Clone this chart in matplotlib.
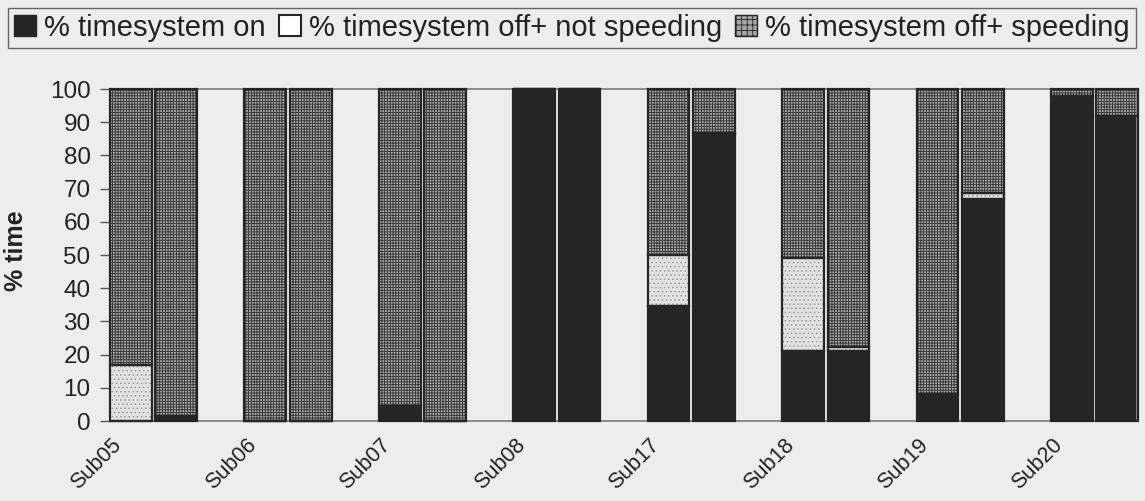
import numpy as np
import matplotlib
matplotlib.use("Agg")
import matplotlib.pyplot as plt
from matplotlib.patches import Patch

plt.rcParams['font.family'] = ['Liberation Sans', 'DejaVu Sans']
plt.rcParams['hatch.linewidth'] = 0.6

subjects = ["Sub05", "Sub06", "Sub07", "Sub08", "Sub17", "Sub18", "Sub19", "Sub20"]

# two sessions per subject: (first bar, second bar)
on_first = [0, 0, 4.5, 100, 34.5, 21, 8, 98]
on_second = [1.5, 0, 0, 100, 86, 21, 67, 92]
off_slow_first = [17, 0, 0, 0, 15.5, 28, 0, 0]
off_slow_second = [0, 0, 0, 0, 0.6, 1.2, 1.8, 0]
off_fast_first = [83, 100, 95.5, 0, 50, 51, 92, 2]
off_fast_second = [98.5, 100, 100, 0, 13.4, 77.8, 31.2, 8]

series_names = ["% timesystem on", "% timesystem off+ not speeding", "% timesystem off+ speeding"]

bg = "#ededed"
dark = "#252525"
styles = [
    dict(face=dark, hatch=None, hcol=dark),
    dict(face="#e2e2e2", hatch="....", hcol="#999999"),
    dict(face="#a4a4a4", hatch="++++++", hcol="#333333"),
]

fig = plt.figure(figsize=(11.45, 5.01), dpi=100, facecolor=bg)
ax = fig.add_axes([110 / 1145, 80 / 501, (1137 - 110) / 1145, (421 - 89) / 501])
ax.set_facecolor(bg)

width = 0.31
offsets = [0.0, 0.338]
x = np.arange(len(subjects))

sessions = [
    (on_first, off_slow_first, off_fast_first),
    (on_second, off_slow_second, off_fast_second),
]

for off, (s_on, s_slow, s_fast) in zip(offsets, sessions):
    bottom = np.zeros(len(subjects))
    for vals, st in zip((s_on, s_slow, s_fast), styles):
        vals = np.asarray(vals, dtype=float)
        ax.bar(x + off, vals, width, bottom=bottom, align="edge",
               color=st["face"], hatch=st["hatch"], edgecolor=st["hcol"],
               linewidth=0, clip_on=False, zorder=2)
        ax.bar(x + off, vals, width, bottom=bottom, align="edge",
               facecolor="none", edgecolor=dark, linewidth=1.6,
               clip_on=False, zorder=3)
        bottom += vals

ax.set_xlim(0, 7.64)
ax.set_ylim(0, 100)
ax.set_yticks(np.arange(0, 101, 10))
ax.tick_params(axis="y", labelsize=17.5, length=7, width=1, color="#555555",
               pad=7, labelcolor="#222222")
ax.set_xticks(x + 0.01)
ax.set_xticklabels(subjects, rotation=45, ha="right", rotation_mode="anchor",
                   fontsize=15.5, color="#222222")
ax.tick_params(axis="x", length=0, pad=10)
for side in ["top", "bottom", "left", "right"]:
    ax.spines[side].set_color("#8c8c8c")
    ax.spines[side].set_linewidth(1.4)

fig.text(16 / 1145, 1 - 251 / 501, "% time", rotation=90, ha="center", va="center",
         fontsize=18, fontweight="bold", color="#222222")

handles = [
    Patch(facecolor=styles[0]["face"], edgecolor=dark, linewidth=1),
    Patch(facecolor="white", edgecolor=dark, linewidth=1.5),
    Patch(facecolor=styles[2]["face"], hatch="+++", edgecolor=dark, linewidth=1),
]
leg = fig.legend(handles, series_names, loc="upper left", bbox_to_anchor=(8 / 1145, 1 - 8 / 501),
                 ncol=3, fontsize=21, frameon=True, fancybox=False,
                 handlelength=0.75, handleheight=0.75, handletextpad=0.28,
                 columnspacing=0.45, borderpad=0.2, borderaxespad=0)
leg.get_frame().set_edgecolor("#444444")
leg.get_frame().set_facecolor(bg)
leg.get_frame().set_linewidth(1.0)
for t in leg.get_texts():
    t.set_color("#222222")

fig.savefig("out.png", dpi=100, facecolor=bg)
